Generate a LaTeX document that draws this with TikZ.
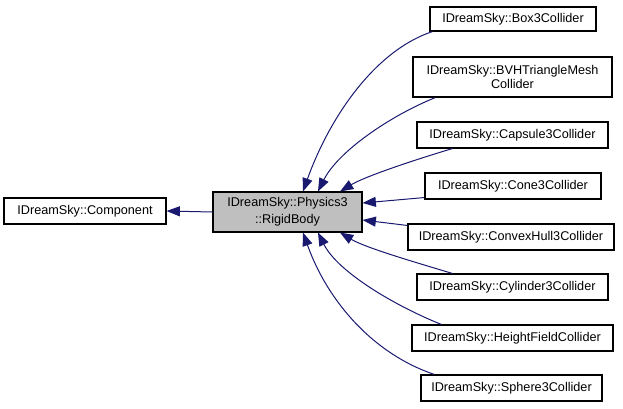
\documentclass[tikz,border=0pt]{standalone}
\usepackage{fontspec}
\setmainfont{Liberation Sans}
\usepackage{tikz}
\usetikzlibrary{positioning}
\usetikzlibrary{calc}
\usetikzlibrary{arrows.meta}

\definecolor{edgeblue}{RGB}{25,25,112}

\begin{document}
\begin{tikzpicture}[x=0.75pt,y=-0.75pt,
	clsnode/.style={rectangle, draw=black, fill=white, line width=0.8pt, inner sep=0pt, align=center, font=\fontsize{9.5}{10.5}\selectfont, minimum height=19.5pt},
	hlnode/.style={clsnode, fill=black!25, font=\fontsize{9.5}{12.75}\selectfont},
	inhedge/.style={draw=edgeblue, line width=0.75pt, -{Triangle[length=10pt,width=7.5pt]}}]
	\useasboundingbox (0,0) rectangle (623,408);
	\node[clsnode, minimum width=121.5pt] (component) at (85,211) {IDreamSky::Component};
	\node[hlnode, minimum width=111.75pt, minimum height=30pt] (rigidbody) at (287.5,212) {IDreamSky::Physics3\\::RigidBody};
	\node[clsnode, minimum width=124.5pt, minimum height=18pt] (box) at (513,19) {IDreamSky::Box3Collider};
	\node[clsnode, minimum width=149.25pt, minimum height=30pt] (bvh) at (512.5,77) {IDreamSky::BVHTriangleMesh\\Collider};
	\node[clsnode, minimum width=143.25pt] (capsule) at (512.5,135) {IDreamSky::Capsule3Collider};
	\node[clsnode, minimum width=132pt] (cone) at (513,186) {IDreamSky::Cone3Collider};
	\node[clsnode, minimum width=154.5pt] (convexhull) at (511,237) {IDreamSky::ConvexHull3Collider};
	\node[clsnode, minimum width=143.25pt] (cylinder) at (512.5,287) {IDreamSky::Cylinder3Collider};
	\node[clsnode, minimum width=150.75pt] (heightfield) at (512.5,338) {IDreamSky::HeightFieldCollider};
	\node[clsnode, minimum width=135.75pt] (sphere) at (511.5,388) {IDreamSky::Sphere3Collider};
	\draw[inhedge] (rigidbody.west) -- (component.east);
	\draw[inhedge] ($(box.south west)+(3,0)$) .. controls +(-60,20) and +(25,-70) .. ($(rigidbody.north)+(15.5,0)$);
	\draw[inhedge] ($(bvh.south west)+(23,0)$) .. controls +(-45,18) and +(20,-40) .. ($(rigidbody.north)+(30.5,0)$);
	\draw[inhedge] ($(capsule.south west)+(36,0)$) .. controls +(-40,12) and +(25,-15) .. ($(rigidbody.north)+(52.5,0)$);
	\draw[inhedge] ($(cone.south west)+(0,-2)$) -- ($(rigidbody.east)+(0,-9)$);
	\draw[inhedge] ($(convexhull.north west)+(0,2)$) -- ($(rigidbody.east)+(0,8)$);
	\draw[inhedge] ($(cylinder.north west)+(36,0)$) .. controls +(-40,-12) and +(25,15) .. ($(rigidbody.south)+(52.5,0)$);
	\draw[inhedge] ($(heightfield.north west)+(30,0)$) .. controls +(-45,-18) and +(20,40) .. ($(rigidbody.south)+(30.5,0)$);
	\draw[inhedge] ($(sphere.north west)+(14,0)$) .. controls +(-60,-20) and +(25,70) .. ($(rigidbody.south)+(15.5,0)$);
\end{tikzpicture}
\end{document}
